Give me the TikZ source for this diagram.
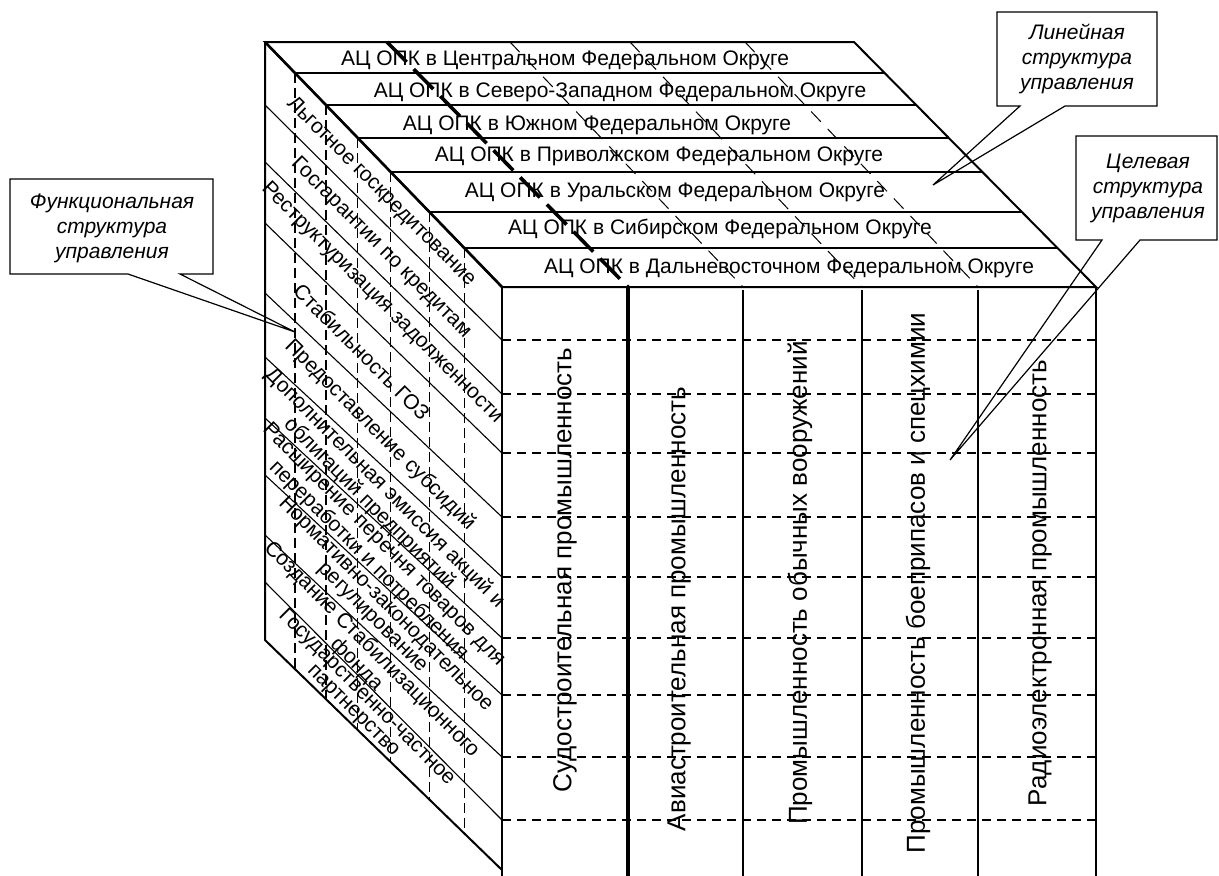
\documentclass[tikz,border=0pt]{standalone}
\usepackage{fontspec}
\setmainfont{Liberation Sans}
\usetikzlibrary{calc}
\begin{document}
\begin{tikzpicture}[x=0.5pt,y=-0.5pt,
  outer/.style={line width=1pt},
  ln/.style={line width=0.55pt},
  thickline/.style={line width=1.8pt},
  hdsh/.style={line width=0.65pt, dash pattern=on 4.5pt off 3pt},
  vdsh/.style={line width=0.6pt, dash pattern=on 5pt off 2.5pt},
  tdsh/.style={line width=0.5pt, dash pattern=on 7pt off 5pt},
  thickdsh/.style={line width=1.8pt, dash pattern=on 14pt off 5pt},
  toplbl/.style={font=\fontsize{10.5}{12}\selectfont, inner sep=0pt},
  sidelbl/.style={font=\fontsize{10.5}{9.3}\selectfont, rotate=-45, align=center, inner sep=0pt},
  frontlbl/.style={font=\fontsize{13}{15}\selectfont, rotate=90, inner sep=0pt},
  callout/.style={line width=0.6pt},
  calltxt/.style={font=\fontsize{10.5}{12.5}\selectfont\itshape, align=center, inner sep=0pt}
]
\useasboundingbox (0,0) rectangle (1219,875);
\clip (0,0) rectangle (1219,875);
% cube corners
\coordinate (A) at (265,42);
\coordinate (B) at (854,42);
\coordinate (C) at (1096,287);
\coordinate (D) at (502,287);
\coordinate (A2) at (265,640);
\coordinate (D2) at (502,870);
\coordinate (Db) at (502,890);
\coordinate (Cb) at (1096,890);
% top face rows and left face dashed verticals
\foreach \t in {0.1265,0.2571,0.3918,0.5306,0.6939,0.8408}{
  \draw[ln] ($(A)!\t!(D)$) -- ($(B)!\t!(C)$);
  \draw[vdsh] ($(A)!\t!(D)$) -- ($(A2)!\t!(D2)$);
}
% top face dashed diagonals
\draw[thickdsh] (387,42) -- (628,287);
\draw[tdsh] (510,42) -- (743,287);
\draw[tdsh] (630,42) -- (862,287);
\draw[tdsh] (745,42) -- (978,287);
% left face diagonals
\foreach \yl/\yr in {105/340,162/394,223/453,293/517,357/577,418/638,475/695,535/757,582/820}{
  \draw[ln] (265,\yl) -- (502,\yr);
}
% front face dashed rows
\foreach \y in {340,394,453,517,577,638,695,757,820}{
  \draw[hdsh] (502,\y) -- (1096,\y);
}
% front face columns
\draw[ln] (743,290) -- (743,890);
\draw[ln] (862,290) -- (862,890);
\draw[ln] (978,290) -- (978,890);
\draw[thickline] (628,287) -- (628,890);
% outer edges
\draw[outer] (A) -- (B) -- (C) -- (D) -- cycle;
\draw[outer] (A) -- (A2) -- (D2);
\draw[outer] (D) -- (Db);
\draw[outer] (C) -- (Cb);
\draw[line width=1.3pt] (A) -- (D);
% top labels
\node[toplbl] (t1) at (565,60) {АЦ ОПК в Центральном Федеральном Округе};
\node[toplbl] (t2) at (620,92) {АЦ ОПК в Северо-Западном Федеральном Округе};
\node[toplbl] (t3) at (597,125) {АЦ ОПК в Южном Федеральном Округе};
\node[toplbl] (t4) at (659,156) {АЦ ОПК в Приволжском Федеральном Округе};
\node[toplbl] (t5) at (675,192) {АЦ ОПК в Уральском Федеральном Округе};
\node[toplbl] (t6) at (720,229) {АЦ ОПК в Сибирском Федеральном Округе};
\node[toplbl] (t7) at (789,268) {АЦ ОПК в Дальневосточном Федеральном Округе};
% left labels
\node[sidelbl] (s1) at (381,192) {Льготное госкредитование};
\node[sidelbl] (s2) at (381,248) {Госгарантии по кредитам};
\node[sidelbl] (s3) at (382,303) {Реструктуризация задолженности};
\node[sidelbl] (s4) at (362,352) {Стабильность ГОЗ};
\node[sidelbl] (s5) at (380,435) {Предоставление субсидий};
\node[sidelbl] (s6) at (377,496) {Дополнительная эмиссия акций и\\облигаций предприятий};
\node[sidelbl] (s7) at (376,553) {Расширение перечня товаров для\\переработки и потребления};
\node[sidelbl] (s8) at (379,611) {Нормативно-законодательное\\регулирование};
\node[sidelbl] (s9) at (364,657) {Создание Стабилизационного\\фонда};
\node[sidelbl] (s10) at (360,704) {Государственно-частное\\партнерство};
% front labels
\node[frontlbl] (f1) at (565,570) {Судостроительная промышленность};
\node[frontlbl] (f2) at (679,609) {Авиастроительная промышленность};
\node[frontlbl] (f3) at (800,583) {Промышленность обычных вооружений};
\node[frontlbl] (f4) at (918,583) {Промышленность боеприпасов и спецхимии};
\node[frontlbl] (f5) at (1040,583) {Радиоэлектронная промышленность};
% callouts
\coordinate (tip1) at (295,332);
\coordinate (tip2) at (933,185);
\coordinate (tip3) at (950,460);
\draw[callout] (10,179) -- (213,179) -- (213,274) -- (180,274) -- (tip1) -- (128,274) -- (10,274) -- cycle;
\node[calltxt] (c1) at (112,228) {Функциональная\\структура\\управления};
\draw[callout] (997,12) -- (1157,12) -- (1157,106) -- (1065,106) -- (tip2) -- (1020,106) -- (997,106) -- cycle;
\node[calltxt] (c2) at (1077,59) {Линейная\\структура\\управления};
\draw[callout] (1076,136) -- (1217,136) -- (1217,240) -- (1140,240) -- (tip3) -- (1102,240) -- (1076,240) -- cycle;
\node[calltxt] (c3) at (1148,188) {Целевая\\структура\\управления};
\end{tikzpicture}
\end{document}
